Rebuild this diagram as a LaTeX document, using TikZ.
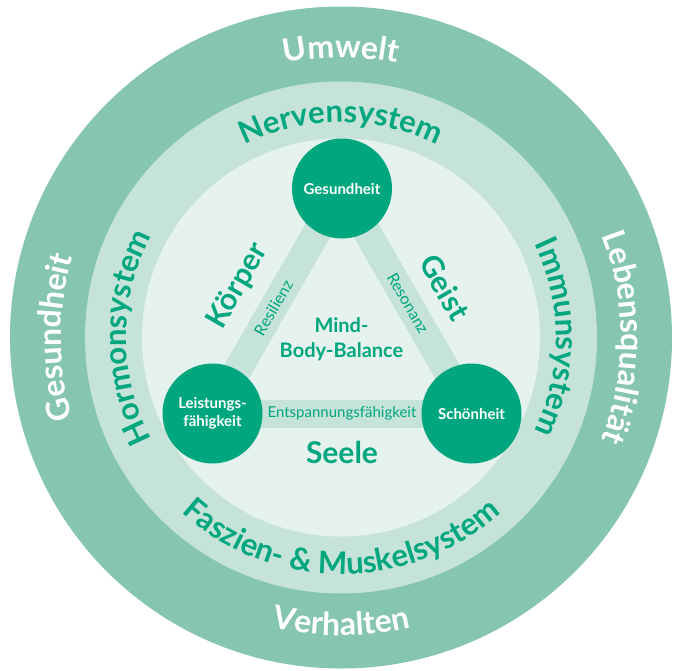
\documentclass[tikz,border=0pt]{standalone}
\usepackage{fontspec}
\setmainfont{Lato}
\usetikzlibrary{decorations.text,calc}
\definecolor{outerc}{HTML}{86C6AE}
\definecolor{midc}{HTML}{C5E3D8}
\definecolor{innerc}{HTML}{E6F2EE}
\definecolor{darkg}{HTML}{00A77E}
\pgfdeclarelayer{rings}
\pgfdeclarelayer{bands}
\pgfsetlayers{rings,bands,main}
\newcommand\ringfnt{\fontsize{32}{32}\selectfont\bfseries}
\newcommand\midfnt{\fontsize{31}{31}\selectfont\bfseries}
\begin{document}
\begin{tikzpicture}[x=1pt,y=1pt,
  hub/.style={circle, fill=darkg, minimum size=100pt, inner sep=0pt, text=white,
    font=\fontsize{15}{18}\selectfont\bfseries, align=center},
  band/.style={line width=28pt, draw=midc},
  bandlabel/.style={text=darkg, font=\fontsize{15}{15}\selectfont, sloped, inner sep=1pt},
  biglabel/.style={text=darkg, font=\fontsize{30}{30}\selectfont\bfseries},
  arctext/.style={decorate, decoration={text along path, text align=center, text color=#1}},
]
\useasboundingbox (-341,-332.5) rectangle (342,337.5);
\begin{pgfonlayer}{rings}
\fill[outerc] (0,0) circle[radius=331];
\fill[midc] (0,0) circle[radius=256];
\fill[innerc] (0,0) circle[radius=199];
\end{pgfonlayer}

% hubs
\node[hub] (g) at (1,149) {Gesundheit};
\node[hub] (l) at (-128.5,-76) {Leistungs-\\fähigkeit};
\node[hub] (s) at (130.5,-76) {Schönheit};

% bands
\begin{pgfonlayer}{bands}
\draw[band] (g.center) -- node[bandlabel, pos=0.53, font=\fontsize{16}{16}\selectfont] (res) {Resilienz} (l.center);
\draw[band] (g.center) -- node[bandlabel, pos=0.51, font=\fontsize{16}{16}\selectfont] (reso) {Resonanz} (s.center);
\draw[band] (l.center) -- node[bandlabel, midway] (ent) {Entspannungsfähigkeit} (s.center);
\end{pgfonlayer}

% inner labels
\node[text=darkg, font=\fontsize{20}{25}\selectfont\bfseries, align=center] (mbb) at (0.5,-2) {Mind-\\Body-Balance};
\node[biglabel, rotate=60] (koerper) at (-103,51.5) {Körper};
\node[biglabel, rotate=-60] (geist) at (104,50) {Geist};
\node[biglabel] (seele) at (1,-114.5) {Seele};

% outer ring texts
\path[arctext=white, decoration={text={|\ringfnt|Umwelt}}] (180:280) arc[start angle=180, end angle=0, radius=280];
\path[arctext=white, decoration={text={|\ringfnt|Gesundheit}}] (270:280) arc[start angle=270, end angle=90, radius=280];
\path[arctext=white, decoration={text={|\ringfnt|Lebensqualität}}] (90:280) arc[start angle=90, end angle=-90, radius=280];
\path[arctext=white, decoration={text={|\ringfnt|Verhalten}}] (180:298) arc[start angle=180, end angle=360, radius=298];

% middle ring texts
\path[arctext=darkg, decoration={text={|\midfnt|Nervensystem}}] (180:215) arc[start angle=180, end angle=0, radius=215];
\path[arctext=darkg, decoration={text={|\midfnt|Hormonsystem}}] (270:215) arc[start angle=270, end angle=90, radius=215];
\path[arctext=darkg, decoration={text={|\midfnt|Immunsystem}}] (90:215) arc[start angle=90, end angle=-90, radius=215];
\path[arctext=darkg, decoration={text={|\midfnt|Faszien- {\&} Muskelsystem}}] (180:237) arc[start angle=180, end angle=360, radius=237];
\end{tikzpicture}
\end{document}
